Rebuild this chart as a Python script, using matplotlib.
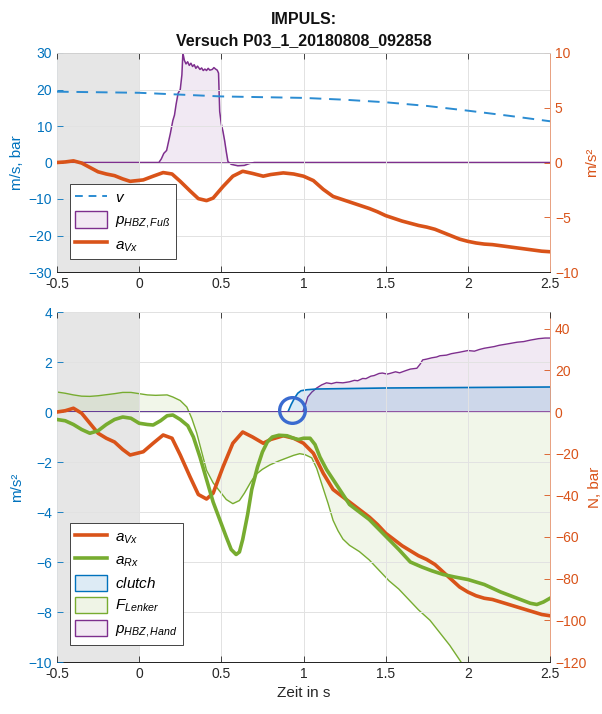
import numpy as np
import matplotlib
matplotlib.use("Agg")
import matplotlib.pyplot as plt
from matplotlib.lines import Line2D
from matplotlib.patches import Patch

plt.rcParams['font.family'] = ['Liberation Sans', 'DejaVu Sans']
plt.rcParams['mathtext.fontset'] = 'custom'
plt.rcParams['mathtext.it'] = 'Liberation Sans:italic'
plt.rcParams['mathtext.rm'] = 'Liberation Sans'
plt.rcParams['mathtext.default'] = 'it'

# ---------------- data ----------------
title_text = "IMPULS:\nVersuch P03_1_20180808_092858"
xticks = [-0.5, 0, 0.5, 1, 1.5, 2, 2.5]
xticklabels = ['-0.5', '0', '0.5', '1', '1.5', '2', '2.5']
gray_span = [-0.5, 0.0]

# top panel
t_v = [-0.5, 0, 0.25, 0.5, 0.75, 1.0, 1.25, 1.5, 1.75, 2.0, 2.25, 2.5]
v = [19.4, 19.1, 18.6, 18.1, 17.9, 17.7, 17.2, 16.5, 15.5, 14.2, 12.8, 11.3]

t_pfuss = [-0.5, 0.12, 0.135, 0.15, 0.167, 0.19, 0.205, 0.215, 0.225, 0.237, 0.25, 0.26,
           0.266, 0.275, 0.285, 0.295, 0.305, 0.315, 0.325, 0.335, 0.345, 0.355, 0.37,
           0.38, 0.39, 0.40, 0.41, 0.42, 0.43, 0.445, 0.455, 0.465, 0.475, 0.483, 0.49,
           0.50, 0.51, 0.52, 0.53, 0.54, 0.56, 0.60, 0.64, 0.67, 0.70, 2.5]
p_fuss = [0, 0, 1, 2.5, 3.3, 8, 11.5, 13, 16, 19, 20, 24,
          30, 28, 27, 27.6, 26.6, 27.2, 26.3, 26.8, 25.8, 26.4, 25.5,
          25.9, 25.2, 25.6, 25.2, 25.8, 25.3, 25.5, 26, 25.6, 25.3, 24.5, 14,
          10.5, 8.5, 6, 3, 0.3, -0.5, -0.9, -0.8, -0.3, 0, 0]

# a_Vx (shared by both panels), m/s^2
t_avx = [-0.5, -0.45, -0.4, -0.35, -0.3, -0.25, -0.2, -0.15, -0.1, -0.055, 0.025,
         0.085, 0.146, 0.2, 0.25, 0.31, 0.36, 0.41, 0.45, 0.51, 0.57, 0.63, 0.69,
         0.755, 0.8, 0.877, 0.94, 1.0, 1.06, 1.12, 1.18, 1.26, 1.3, 1.35, 1.4, 1.45,
         1.5, 1.55, 1.6, 1.65, 1.7, 1.75, 1.8, 1.85, 1.9, 1.95, 2.0, 2.05, 2.1, 2.15,
         2.2, 2.25, 2.3, 2.35, 2.4, 2.45, 2.5]
a_vx = [0.0, 0.05, 0.15, -0.05, -0.45, -0.85, -1.05, -1.2, -1.5, -1.72, -1.59,
        -1.25, -0.92, -1.05, -1.72, -2.6, -3.3, -3.48, -3.25, -2.2, -1.25, -0.8, -1.0,
        -1.25, -1.1, -0.95, -1.05, -1.25, -1.65, -2.45, -3.1, -3.5, -3.7, -3.95, -4.2, -4.5,
        -4.85, -5.1, -5.35, -5.55, -5.75, -5.9, -6.1, -6.4, -6.7, -7.0, -7.2, -7.35, -7.45, -7.5,
        -7.6, -7.7, -7.8, -7.9, -8.0, -8.1, -8.15]

# bottom panel
t_arx = [-0.5, -0.45, -0.4, -0.35, -0.3, -0.25, -0.2, -0.15, -0.1, -0.05, 0.0, 0.05,
         0.085, 0.13, 0.17, 0.205, 0.25, 0.296, 0.33, 0.37, 0.41, 0.45, 0.49, 0.53,
         0.56, 0.59, 0.61, 0.63, 0.66, 0.685, 0.72, 0.75, 0.78, 0.81, 0.85, 0.90,
         0.94, 0.97, 1.0, 1.04, 1.07, 1.10, 1.14, 1.18, 1.23, 1.28, 1.34, 1.4, 1.46,
         1.52, 1.58, 1.65, 1.72, 1.78, 1.85, 1.92, 2.0, 2.05, 2.1, 2.2, 2.3, 2.38,
         2.42, 2.46, 2.5]
a_rx = [-0.3, -0.35, -0.5, -0.7, -0.85, -0.75, -0.5, -0.3, -0.2, -0.25, -0.45, -0.5,
        -0.52, -0.35, -0.15, -0.12, -0.3, -0.55, -1.0, -1.8, -2.7, -3.6, -4.3, -5.0,
        -5.5, -5.7, -5.6, -5.1, -4.1, -3.1, -2.2, -1.6, -1.2, -1.0, -0.93, -0.95,
        -1.05, -1.1, -1.05, -1.05, -1.3, -1.8, -2.3, -2.7, -3.2, -3.7, -4.0, -4.3, -4.7,
        -5.1, -5.5, -6.0, -6.2, -6.35, -6.5, -6.6, -6.7, -6.8, -6.9, -7.2, -7.45, -7.65,
        -7.7, -7.6, -7.45]

t_clutch = [-0.5, 0.905, 0.925, 0.945, 0.965, 0.985, 1.02, 1.08, 1.5, 2.0, 2.5]
clutch = [0, 0, 0.3, 0.55, 0.75, 0.85, 0.89, 0.92, 0.96, 0.98, 1.0]

t_flenker = [-0.5, -0.45, -0.4, -0.35, -0.3, -0.25, -0.2, -0.15, -0.1, -0.05, 0.0, 0.05,
             0.1, 0.17, 0.205, 0.25, 0.29, 0.32, 0.35, 0.38, 0.41, 0.45, 0.49, 0.53,
             0.57, 0.61, 0.64, 0.68, 0.71, 0.75, 0.795, 0.85, 0.90, 0.94, 0.977, 1.01,
             1.05, 1.08, 1.117, 1.15, 1.18, 1.21, 1.24, 1.28, 1.34, 1.4, 1.46, 1.52,
             1.58, 1.64, 1.70, 1.77, 1.83, 1.89, 1.95, 2.0, 2.1, 2.2, 2.3, 2.4, 2.5]
f_lenker = [9.6, 9.0, 8.2, 7.6, 7.5, 7.8, 8.3, 8.8, 9.4, 9.4, 8.8, 8.2,
            8.0, 8.2, 7.2, 5.5, 2.4, -3, -10, -19, -28, -34, -38, -42,
            -44, -42.5, -39, -33.5, -30, -27.5, -25.4, -23.5, -22, -20.8, -20, -20.5,
            -22, -27, -36, -44, -52, -57, -61, -64, -67, -71, -76, -81,
            -85, -90, -95, -100, -106, -112, -119, -125, -133, -140, -146, -151, -155]

t_phand = [-0.5, 0.995, 1.01, 1.026, 1.05, 1.08, 1.11, 1.14, 1.17, 1.2, 1.24, 1.28, 1.31,
           1.33, 1.36, 1.38, 1.41, 1.43, 1.46, 1.48, 1.51, 1.53, 1.56, 1.585, 1.62, 1.65,
           1.69, 1.71, 1.725, 1.75, 1.78, 1.81, 1.83, 1.87, 1.9, 1.95, 2.0, 2.04, 2.07,
           2.1, 2.13, 2.16, 2.19, 2.25, 2.3, 2.34, 2.38, 2.43, 2.47, 2.5]
p_hand = [0, 0, 3, 7.2, 9.5, 11.5, 13, 14, 13.6, 14.2, 14.0, 14.5, 15.2,
          15.0, 16.1, 16.0, 17.2, 17.5, 18.5, 18.7, 18.2, 18.6, 19.3, 18.8, 19.8, 20.6,
          21, 23, 25, 25.4, 26, 26.4, 27, 27.3, 28, 28.7, 29.5, 29.2, 30,
          30.6, 31, 31.4, 32, 32.8, 33.5, 33.8, 34.5, 35.2, 35.5, 35.5]

circle_pt = (0.928, 0.07)

# ---------------- styles ----------------
C_BLUE = '#0072BD'
C_VBLUE = '#2B8CD2'
C_ORANGE = '#D95319'
C_PURPLE = '#7E2F8E'
C_GREEN = '#77AC30'
C_GRID = '#E2E2E2'
C_GRAY = '#E6E6E6'
C_TXT = '#262626'
C_CIRCLE = '#3A6BD0'

fig = plt.figure(figsize=(6.02, 7.14), dpi=100)
L = 57 / 602
W = (550 - 57) / 602
ax1 = fig.add_axes([L, 1 - 272 / 714, W, (272 - 53) / 714])
ax3 = fig.add_axes([L, 1 - 662 / 714, W, (662 - 312) / 714])


def style_axes(ax, axr):
    for a in (ax, axr):
        a.set_xlim(-0.5, 2.5)
        a.tick_params(direction='in', length=4, width=0.6, labelsize=10)
    ax.set_xticks(xticks)
    ax.set_xticklabels(xticklabels, color=C_TXT)
    ax.tick_params(axis='x', colors=C_TXT, labelcolor=C_TXT, top=True)
    ax.tick_params(axis='y', colors=C_BLUE, labelcolor=C_BLUE)
    axr.tick_params(axis='y', colors=C_ORANGE, labelcolor=C_ORANGE)
    ax.spines['left'].set_color(C_BLUE)
    axr.spines['right'].set_color('#E8A080')
    for a in (ax, axr):
        a.spines['top'].set_color('#D0D0D0')
        a.spines['bottom'].set_color(C_TXT)
        for s in a.spines.values():
            s.set_linewidth(0.7)
    axr.spines['left'].set_visible(False)
    ax.spines['right'].set_visible(False)


# ---------------- top panel ----------------
ax2 = ax1.twinx()
ax1.axvspan(gray_span[0], gray_span[1], color=C_GRAY, lw=0, zorder=0)
ax1.fill_between(t_pfuss, p_fuss, 0, color=C_PURPLE, alpha=0.1, lw=0, zorder=1)
ax1.plot(t_pfuss, p_fuss, color=C_PURPLE, lw=1.1, zorder=2)
ax1.plot([-0.5, 2.5], [0, 0], color=C_PURPLE, lw=1.1, zorder=2)
ax1.plot(t_v, v, color=C_VBLUE, lw=1.4, ls=(0, (6, 4)), zorder=3)
ax2.plot(t_avx, a_vx, color=C_ORANGE, lw=2.6, zorder=3)
ax1.set_ylim(-30, 30)
ax1.set_yticks(np.arange(-30, 31, 10))
ax2.set_ylim(-10, 10)
ax2.set_yticks([-10, -5, 0, 5, 10])
ax1.grid(True, color=C_GRID, lw=0.7)
ax1.set_axisbelow(False)
style_axes(ax1, ax2)
ax1.set_ylabel('m/s, bar', color=C_BLUE, fontsize=11)
ax1.yaxis.set_label_coords(-0.066, 0.5)
ax2.set_ylabel('m/s²', color=C_ORANGE, fontsize=11)
ax2.yaxis.set_label_coords(1.071, 0.5)
ax1.set_title(title_text, fontsize=11.5, fontweight='bold', color='#111111',
              linespacing=1.45, pad=6)

h_top = [Line2D([], [], color=C_VBLUE, lw=1.4, ls=(0, (4, 3))),
         Patch(facecolor='#F2E9F3', edgecolor=C_PURPLE, lw=1.0),
         Line2D([], [], color=C_ORANGE, lw=2.6)]
lab_top = [r'$v$', r'$p_{HBZ,Fuß}$', r'$a_{Vx}$']
leg1 = ax2.legend(h_top, lab_top, loc='lower left', bbox_to_anchor=(0.026, 0.06),
                  fontsize=11, frameon=True, fancybox=False, framealpha=1,
                  edgecolor=C_TXT, handlelength=2.1, handleheight=1.3,
                  borderpad=0.35, labelspacing=0.35, handletextpad=0.5,
                  borderaxespad=0)
leg1.get_frame().set_linewidth(0.6)

# ---------------- bottom panel ----------------
ax4 = ax3.twinx()
ax3.set_zorder(ax4.get_zorder() + 1)
ax3.patch.set_visible(False)
ax4.axvspan(gray_span[0], gray_span[1], color=C_GRAY, lw=0, zorder=0)
ax4.fill_between(t_flenker, f_lenker, 0, color=C_GREEN, alpha=0.1, lw=0, zorder=1)
ax4.plot(t_flenker, f_lenker, color=C_GREEN, lw=1.0, zorder=2)
ax4.fill_between(t_phand, p_hand, 0, color=C_PURPLE, alpha=0.1, lw=0, zorder=1)
ax4.plot(t_phand, p_hand, color=C_PURPLE, lw=1.0, zorder=2)
ax3.fill_between(t_clutch, clutch, 0, color=C_BLUE, alpha=0.15, lw=0, zorder=1)
ax3.plot(t_clutch, clutch, color=C_BLUE, lw=1.2, zorder=2)
ax3.plot([-0.5, 2.5], [0, 0], color=C_PURPLE, lw=1.1, zorder=2)
ax3.plot(t_avx, a_vx, color=C_ORANGE, lw=2.6, zorder=3)
ax3.plot(t_arx, a_rx, color=C_GREEN, lw=2.6, zorder=4)
ax3.plot([circle_pt[0]], [circle_pt[1]], 'o', ms=18.5, mfc='none', mec=C_CIRCLE,
         mew=2.4, zorder=5)
ax3.set_ylim(-10, 4)
ax3.set_yticks(np.arange(-10, 5, 2))
ax4.set_ylim(-120, 48)
ax4.set_yticks(np.arange(-120, 41, 20))
ax3.grid(True, color=C_GRID, lw=0.7)
ax3.set_axisbelow(False)
style_axes(ax3, ax4)
ax3.set_ylabel('m/s²', color=C_BLUE, fontsize=11)
ax3.yaxis.set_label_coords(-0.066, 0.5)
ax4.set_ylabel('N, bar', color=C_ORANGE, fontsize=11)
ax4.yaxis.set_label_coords(1.077, 0.5)
ax3.set_xlabel('Zeit in s', color=C_TXT, fontsize=11)

h_bot = [Line2D([], [], color=C_ORANGE, lw=2.6),
         Line2D([], [], color=C_GREEN, lw=2.6),
         Patch(facecolor='#DDEBF5', edgecolor=C_BLUE, lw=1.0),
         Patch(facecolor='#EFF4E6', edgecolor=C_GREEN, lw=1.0),
         Patch(facecolor='#F2E9F3', edgecolor=C_PURPLE, lw=1.0)]
lab_bot = [r'$a_{Vx}$', r'$a_{Rx}$', r'$clutch$', r'$F_{Lenker}$', r'$p_{HBZ,Hand}$']
leg2 = ax3.legend(h_bot, lab_bot, loc='lower left', bbox_to_anchor=(0.026, 0.05),
                  fontsize=11, frameon=True, fancybox=False, framealpha=1,
                  edgecolor=C_TXT, handlelength=2.1, handleheight=1.3,
                  borderpad=0.35, labelspacing=0.35, handletextpad=0.5,
                  borderaxespad=0)
leg2.get_frame().set_linewidth(0.6)

fig.savefig('out.png', dpi=100)
